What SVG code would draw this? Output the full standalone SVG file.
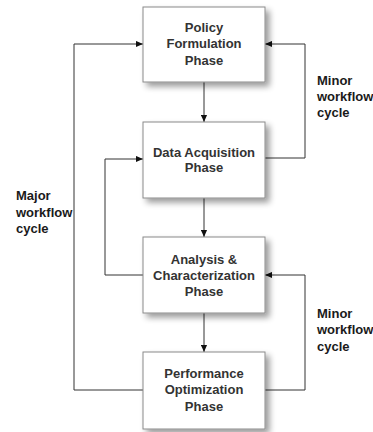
<svg xmlns="http://www.w3.org/2000/svg" width="373" height="432" viewBox="0 0 373 432">
  <defs>
    <filter id="shadow" x="-20%" y="-20%" width="150%" height="150%">
      <feGaussianBlur in="SourceAlpha" stdDeviation="3.2"/>
      <feOffset dx="4" dy="4" result="blur"/>
      <feComponentTransfer><feFuncA type="linear" slope="0.4"/></feComponentTransfer>
      <feMerge><feMergeNode/><feMergeNode in="SourceGraphic"/></feMerge>
    </filter>
    <marker id="arrow" viewBox="0 0 8 8" refX="8" refY="4" markerWidth="7" markerHeight="7" markerUnits="userSpaceOnUse" orient="auto">
      <path d="M0,0.5 L8,4 L0,7.5 Z" fill="#111"/>
    </marker>
  </defs>
  <style>
    .box { fill: #ffffff; stroke: #8a8a8a; stroke-width: 1; filter: url(#shadow); }
    .label { font-family: "Liberation Sans", Arial, sans-serif; font-size: 13px; font-weight: bold; fill: #333333; text-anchor: middle; }
    .note { font-family: "Liberation Sans", Arial, sans-serif; font-size: 13px; font-weight: bold; fill: #1a1a1a; }
    .wire { fill: none; stroke: #333333; stroke-width: 1; }
  </style>
  <rect width="373" height="432" fill="#ffffff"/>

  <g id="connectors">
    <!-- phase-to-phase flow -->
    <path class="wire" d="M204,82 V122" marker-end="url(#arrow)"/>
    <path class="wire" d="M204,198 V237" marker-end="url(#arrow)"/>
    <path class="wire" d="M204,313 V352" marker-end="url(#arrow)"/>
    <!-- upper minor loop -->
    <path class="wire" d="M265,158 H305 V44 H265" marker-end="url(#arrow)"/>
    <!-- lower minor loop -->
    <path class="wire" d="M265,390 H305 V275 H265" marker-end="url(#arrow)"/>
    <!-- inner loop on the left -->
    <path class="wire" d="M143,275 H105 V159 H143" marker-end="url(#arrow)"/>
    <!-- major loop -->
    <path class="wire" d="M143,390 H74 V44 H143" marker-end="url(#arrow)"/>
  </g>

  <g id="policy">
    <rect class="box" x="143" y="7" width="122" height="75"/>
    <text class="label" x="204" y="31.5">Policy</text>
    <text class="label" x="204" y="48">Formulation</text>
    <text class="label" x="204" y="64.5">Phase</text>
  </g>

  <g id="acquisition">
    <rect class="box" x="143" y="122" width="122" height="76"/>
    <text class="label" x="204" y="156.5">Data Acquisition</text>
    <text class="label" x="204" y="172">Phase</text>
  </g>

  <g id="analysis">
    <rect class="box" x="143" y="237" width="122" height="76"/>
    <text class="label" x="204" y="263.5">Analysis &amp;</text>
    <text class="label" x="204" y="279.5">Characterization</text>
    <text class="label" x="204" y="295.5">Phase</text>
  </g>

  <g id="optimization">
    <rect class="box" x="143" y="352" width="122" height="77"/>
    <text class="label" x="204" y="377.5">Performance</text>
    <text class="label" x="204" y="394">Optimization</text>
    <text class="label" x="204" y="410.5">Phase</text>
  </g>

  <g id="labels">
    <text class="note" x="317" y="84.5">Minor</text>
    <text class="note" x="317" y="101">workflow</text>
    <text class="note" x="317" y="117">cycle</text>

    <text class="note" x="317" y="317.5">Minor</text>
    <text class="note" x="317" y="334">workflow</text>
    <text class="note" x="317" y="350.5">cycle</text>

    <text class="note" x="16" y="200">Major</text>
    <text class="note" x="16" y="217">workflow</text>
    <text class="note" x="16" y="233">cycle</text>
  </g>
</svg>
